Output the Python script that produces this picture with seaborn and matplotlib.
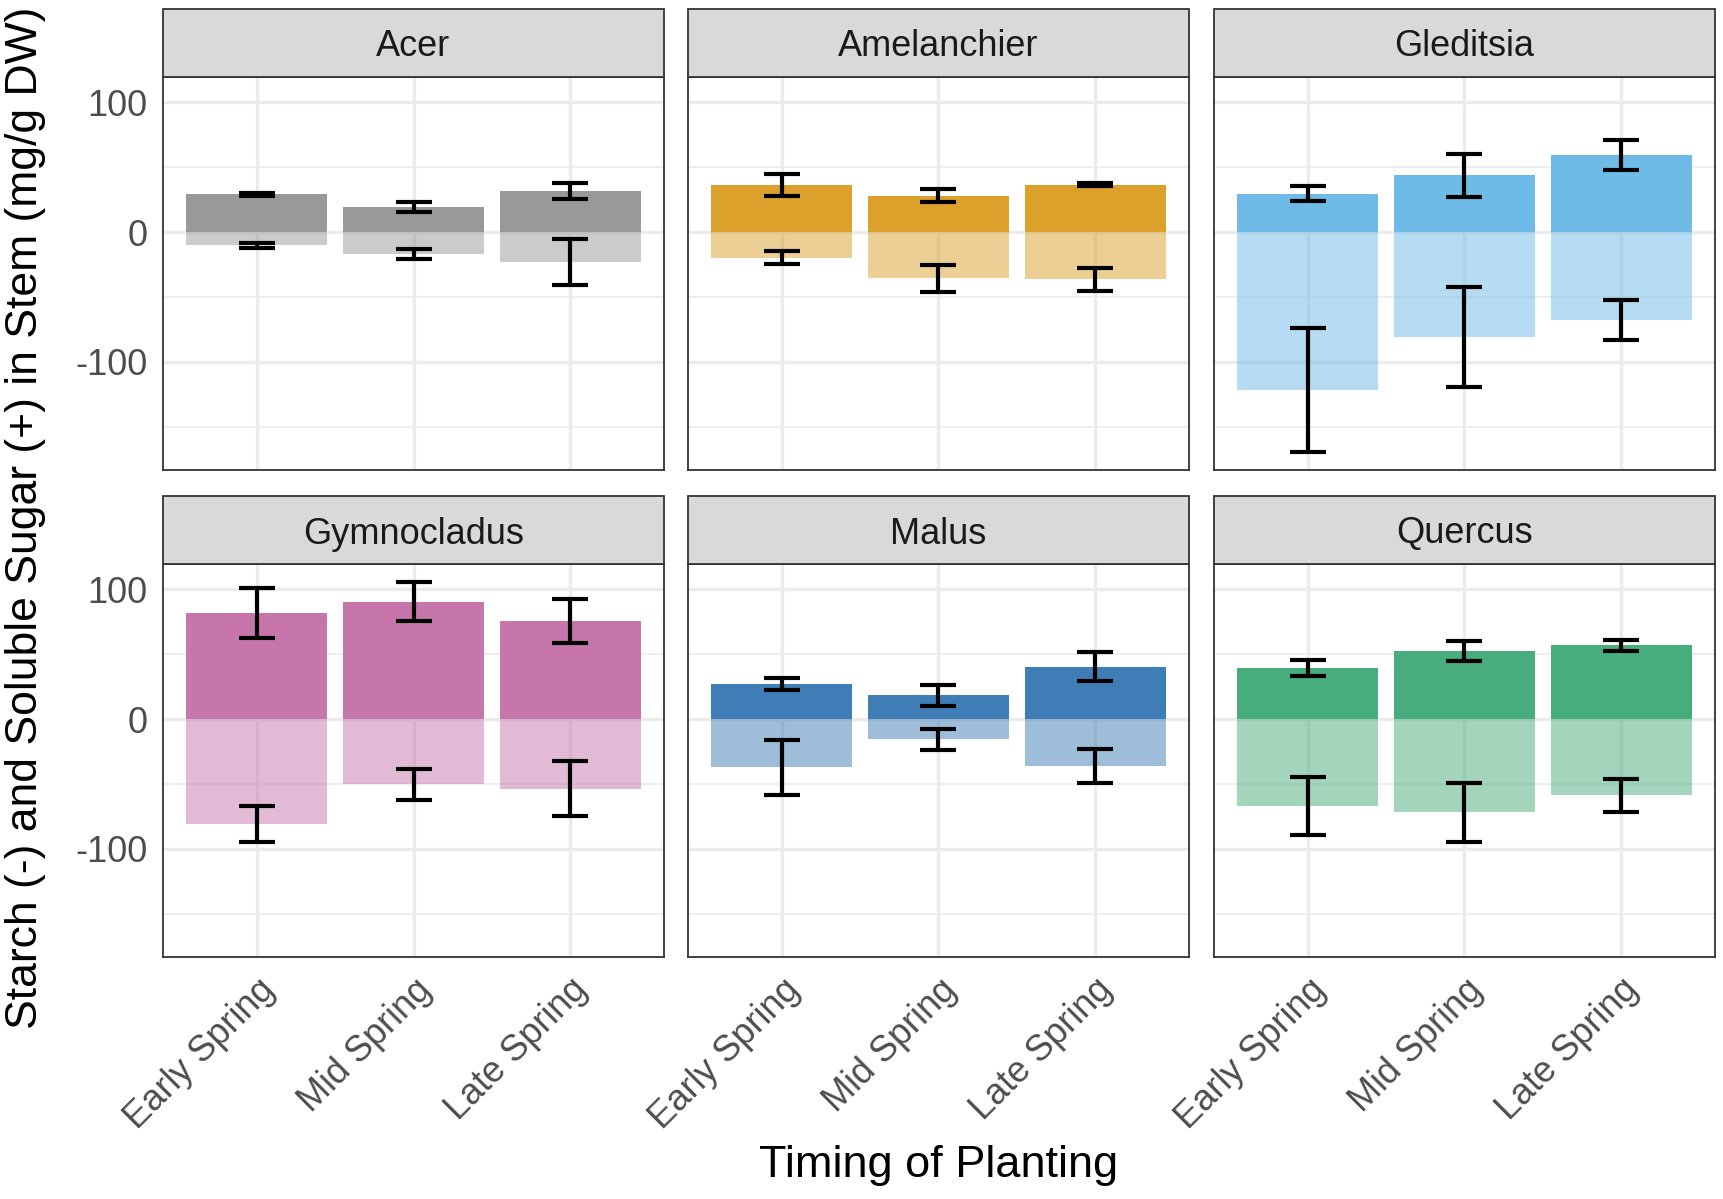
import numpy as np
import pandas as pd
import matplotlib
matplotlib.use("Agg")
import matplotlib.pyplot as plt
from matplotlib.patches import Rectangle
import seaborn as sns

species = ["Acer", "Amelanchier", "Gleditsia", "Gymnocladus", "Malus", "Quercus"]
timing = ["Early Spring", "Mid Spring", "Late Spring"]
colors = ["#999999", "#DBA12A", "#6DBBE6", "#C776AC", "#3E7DB5", "#48AD7C"]

sugar_mean = [[29.0, 19.2, 31.7], [36.3, 28.1, 36.6], [29.7, 43.7, 59.3],
              [81.7, 90.6, 75.6], [27.2, 18.3, 40.5], [39.2, 52.4, 57.0]]
sugar_se = [[1.5, 4.1, 6.0], [8.5, 5.2, 1.3], [5.6, 16.7, 11.5],
            [19.2, 15.2, 17.0], [4.5, 7.9, 11.4], [6.2, 7.9, 4.2]]
starch_mean = [[-10.3, -16.9, -23.0], [-19.9, -35.8, -36.3], [-121.7, -81.1, -67.8],
               [-80.9, -50.4, -53.9], [-37.2, -15.5, -36.1], [-66.9, -72.0, -58.8]]
starch_se = [[2.2, 3.7, 17.6], [5.0, 10.3, 8.8], [48.0, 38.6, 15.8],
             [14.0, 11.8, 21.2], [21.4, 8.0, 13.1], [22.3, 23.0, 12.6]]

rows = []
for i, sp in enumerate(species):
    for j, t in enumerate(timing):
        rows.append(dict(species=sp, timing=t, sugar=sugar_mean[i][j], sugar_se=sugar_se[i][j],
                         starch=starch_mean[i][j], starch_se=starch_se[i][j]))
df = pd.DataFrame(rows)
df["timing"] = pd.Categorical(df["timing"], categories=timing, ordered=True)

sns.set_theme(style="white")
plt.rcParams["font.family"] = ["Liberation Sans", "DejaVu Sans"]

W, H = 1724, 1199
fig = plt.figure(figsize=(W / 100, H / 100), dpi=100)

lefts = [163, 688, 1214]
pw = 501
tops = [77, 564]
ph = 393
strip_h = 68

lo = min((df["starch"] - df["starch_se"]).min(), 0)
hi = max((df["sugar"] + df["sugar_se"]).max(), 0)
pad = (hi - lo) * 0.05
ylim = (lo - pad, hi + pad)

grid_c = "#EBEBEB"
for k, sp in enumerate(species):
    r, c = divmod(k, 3)
    ax = fig.add_axes([lefts[c] / W, 1 - (tops[r] + ph) / H, pw / W, ph / H])
    sub = df[df["species"] == sp]
    col = colors[k]
    ax.set_facecolor("white")
    ax.set_axisbelow(True)
    for yv in [-150, -50, 50]:
        ax.axhline(yv, color=grid_c, lw=1.2, zorder=0)
    for yv in [-100, 0, 100]:
        ax.axhline(yv, color=grid_c, lw=2.4, zorder=0)
    for xv in range(3):
        ax.axvline(xv, color=grid_c, lw=2.4, zorder=0)
    sns.barplot(data=sub, x="timing", y="starch", color=col, saturation=1, alpha=0.5,
                width=0.9, errorbar=None, ax=ax, zorder=2, linewidth=0)
    sns.barplot(data=sub, x="timing", y="sugar", color=col, saturation=1,
                width=0.9, errorbar=None, ax=ax, zorder=2, linewidth=0)
    xs = np.arange(3)
    ax.errorbar(xs, sub["sugar"], yerr=sub["sugar_se"], fmt="none", ecolor="black",
                elinewidth=3.0, capsize=13, capthick=3.0, zorder=4)
    ax.errorbar(xs, sub["starch"], yerr=sub["starch_se"], fmt="none", ecolor="black",
                elinewidth=3.0, capsize=13, capthick=3.0, zorder=4)
    ax.set_xlim(-0.6, 2.6)
    ax.set_ylim(*ylim)
    ax.set_xlabel("")
    ax.set_ylabel("")
    ax.set_yticks([-100, 0, 100])
    for s in ax.spines.values():
        s.set_color("#333333")
        s.set_linewidth(1.3)
        s.set_visible(True)
    ax.tick_params(axis="both", colors="#333333", length=7, width=1.8, labelsize=26,
                   labelcolor="#4D4D4D", direction="out", pad=4)
    if c == 0:
        ax.set_yticklabels(["-100", "0", "100"])
    else:
        ax.tick_params(axis="y", length=0, labelleft=False)
    if r == 1:
        ax.set_xticks(xs)
        ax.set_xticklabels(timing, rotation=45, ha="right", va="top", rotation_mode="anchor")
    else:
        ax.tick_params(axis="x", length=0, labelbottom=False)
    sh = strip_h / ph
    ax.add_patch(Rectangle((0, 1), 1, sh, transform=ax.transAxes, facecolor="#D9D9D9",
                           edgecolor="#333333", lw=1.3, clip_on=False, zorder=5))
    ax.text(0.5, 1 + sh / 2, sp, transform=ax.transAxes, ha="center", va="center_baseline",
            fontsize=26, color="#1A1A1A", zorder=6)

fig.text((163 + 1715) / 2 / W, 1 - 1166 / H, "Timing of Planting", ha="center", va="center",
         fontsize=32.5, color="black")
fig.text(26 / W, 1 - ((77 + 958) / 2) / H, "Starch (-) and Soluble Sugar (+) in Stem (mg/g DW)",
         ha="center", va="center", rotation=90, fontsize=32, color="black")

fig.savefig("out.png", dpi=100, facecolor="white")
